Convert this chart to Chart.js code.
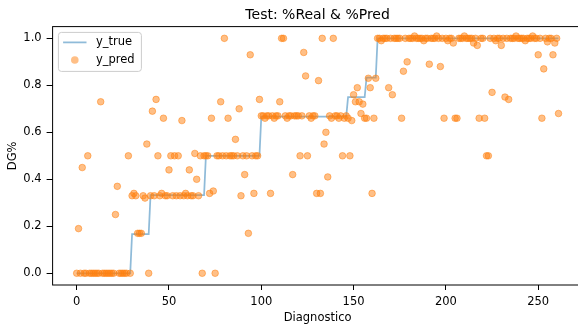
<!DOCTYPE html>
<html>
<head>
<meta charset="UTF-8">
<title>Test: %Real &amp; %Pred</title>
<script src="https://cdn.jsdelivr.net/npm/chart.js"></script>
<style>
  html, body { margin: 0; padding: 0; background: #fff; overflow: hidden; }
  canvas { display: block; }
</style>
</head>
<body>
<canvas id="predChart" width="640" height="326"></canvas>
<script>
// valori reali (ordinati) e predetti, uno per diagnostico
const yTrue = [
  0, 0, 0, 0, 0, 0, 0, 0, 0, 0,
  0, 0, 0, 0, 0, 0, 0, 0, 0, 0,
  0, 0, 0, 0, 0, 0, 0, 0, 0, 0,
  0.167, 0.167, 0.167, 0.167, 0.167, 0.167, 0.167, 0.167, 0.167, 0.167,
  0.333, 0.333, 0.333, 0.333, 0.333, 0.333, 0.333, 0.333, 0.333, 0.333,
  0.333, 0.333, 0.333, 0.333, 0.333, 0.333, 0.333, 0.333, 0.333, 0.333,
  0.333, 0.333, 0.333, 0.333, 0.333, 0.333, 0.333, 0.333, 0.333, 0.333,
  0.5, 0.5, 0.5, 0.5, 0.5, 0.5, 0.5, 0.5, 0.5, 0.5,
  0.5, 0.5, 0.5, 0.5, 0.5, 0.5, 0.5, 0.5, 0.5, 0.5,
  0.5, 0.5, 0.5, 0.5, 0.5, 0.5, 0.5, 0.5, 0.5, 0.5,
  0.667, 0.667, 0.667, 0.667, 0.667, 0.667, 0.667, 0.667, 0.667, 0.667,
  0.667, 0.667, 0.667, 0.667, 0.667, 0.667, 0.667, 0.667, 0.667, 0.667,
  0.667, 0.667, 0.667, 0.667, 0.667, 0.667, 0.667, 0.667, 0.667, 0.667,
  0.667, 0.667, 0.667, 0.667, 0.667, 0.667, 0.667, 0.667, 0.667, 0.667,
  0.667, 0.667, 0.667, 0.667, 0.667, 0.667, 0.667, 0.75, 0.75, 0.75,
  0.75, 0.75, 0.75, 0.75, 0.75, 0.75, 0.75, 0.833, 0.833, 0.833,
  0.833, 0.833, 0.833, 1, 1, 1, 1, 1, 1, 1,
  1, 1, 1, 1, 1, 1, 1, 1, 1, 1,
  1, 1, 1, 1, 1, 1, 1, 1, 1, 1,
  1, 1, 1, 1, 1, 1, 1, 1, 1, 1,
  1, 1, 1, 1, 1, 1, 1, 1, 1, 1,
  1, 1, 1, 1, 1, 1, 1, 1, 1, 1,
  1, 1, 1, 1, 1, 1, 1, 1, 1, 1,
  1, 1, 1, 1, 1, 1, 1, 1, 1, 1,
  1, 1, 1, 1, 1, 1, 1, 1, 1, 1,
  1, 1, 1, 1, 1, 1, 1, 1, 1, 1,
  1, 1
];

const yPred = [
  0, 0.19, 0, 0.45, 0, 0, 0.5, 0, 0, 0,
  0, 0, 0, 0.73, 0, 0, 0, 0, 0, 0,
  0, 0.25, 0.37, 0, 0, 0, 0, 0, 0.5, 0,
  0.33, 0.34, 0.33, 0.17, 0.17, 0.17, 0.33, 0.32, 0.55, 0,
  0.33, 0.69, 0.33, 0.74, 0.5, 0.33, 0.34, 0.66, 0.33, 0.33,
  0.44, 0.5, 0.33, 0.5, 0.33, 0.5, 0.33, 0.65, 0.33, 0.34,
  0.33, 0.44, 0.33, 0.33, 0.51, 0.4, 0.33, 0.5, 0, 0.5,
  0.5, 0.5, 0.34, 0.66, 0.35, 0, 0.5, 0.5, 0.73, 0.5,
  1.0, 0.5, 0.66, 0.5, 0.5, 0.5, 0.57, 0.5, 0.7, 0.33,
  0.5, 0.42, 0.5, 0.17, 0.93, 0.5, 0.34, 0.5, 0.5, 0.74,
  0.67, 0.67, 0.66, 0.67, 0.67, 0.34, 0.67, 0.66, 0.67, 0.67,
  0.73, 1.0, 1.0, 0.67, 0.66, 0.67, 0.67, 0.42, 0.67, 0.67,
  0.67, 0.5, 0.67, 0.94, 0.84, 0.5, 0.67, 0.66, 0.67, 0.67,
  0.34, 0.82, 0.34, 1.0, 0.55, 0.6, 0.41, 0.67, 0.66, 1.0,
  0.67, 0.67, 0.66, 0.67, 0.5, 0.66, 0.67, 0.66, 0.5, 0.65,
  0.76, 0.73, 0.79, 0.73, 0.68, 0.72, 0.66, 0.66, 0.83, 0.79,
  0.34, 0.66, 0.83, 1.0, 1.0, 0.99, 1.0, 1.0, 1.0, 0.79,
  1.0, 0.76, 1.0, 1.0, 1.0, 1.0, 0.66, 0.86, 1.0, 0.9,
  1.0, 1.0, 1.0, 1.01, 1.0, 1.0, 1.0, 1.0, 0.99, 1.0,
  1.0, 0.89, 1.0, 1.0, 1.0, 1.01, 1.0, 0.88, 1.0, 0.66,
  1.0, 0.99, 1.0, 1.0, 0.98, 0.66, 0.66, 1.0, 1.0, 1.0,
  1.01, 1.0, 1.0, 1.0, 1.0, 0.98, 1.0, 0.97, 0.66, 1.0,
  1.0, 0.66, 0.5, 0.5, 1.0, 0.77, 1.0, 0.99, 1.0, 1.0,
  0.97, 1.0, 0.75, 1.0, 0.74, 1.0, 1.0, 1.0, 1.01, 1.0,
  1.0, 1.0, 1.0, 0.99, 1.0, 1.0, 1.0, 1.01, 1.0, 1.0,
  0.93, 1.0, 0.66, 0.87, 1.0, 0.985, 1.0, 1.0, 0.93, 0.98,
  1.0, 0.68
];

const xTicks = [0, 50, 100, 150, 200, 250];
const yTicks = [0, 0.2, 0.4, 0.6, 0.8, 1.0];
const seriesLabels = ['y_true', 'y_pred'];

const blue = 'rgba(31, 119, 180, 0.5)';
const orange = 'rgba(255, 127, 14, 0.5)';
const fontFamily = 'DejaVu Sans';

Chart.defaults.font.family = fontFamily;
Chart.defaults.color = '#000';

// cornice completa + legenda in alto a sinistra (stile matplotlib)
const framePlugin = {
  id: 'frame',
  afterDatasetsDraw(chart) {
    const { ctx, chartArea: a } = chart;
    ctx.save();
    ctx.strokeStyle = '#000';
    ctx.lineWidth = 1;
    ctx.strokeRect(a.left, a.top, a.right - a.left, a.bottom - a.top);

    const x0 = a.left + 5.8, y0 = a.top + 5.8, w = 83, h = 39, r = 3;
    ctx.beginPath();
    ctx.moveTo(x0 + r, y0);
    ctx.lineTo(x0 + w - r, y0);
    ctx.arcTo(x0 + w, y0, x0 + w, y0 + r, r);
    ctx.lineTo(x0 + w, y0 + h - r);
    ctx.arcTo(x0 + w, y0 + h, x0 + w - r, y0 + h, r);
    ctx.lineTo(x0 + r, y0 + h);
    ctx.arcTo(x0, y0 + h, x0, y0 + h - r, r);
    ctx.lineTo(x0, y0 + r);
    ctx.arcTo(x0, y0, x0 + r, y0, r);
    ctx.closePath();
    ctx.fillStyle = 'rgba(255,255,255,0.8)';
    ctx.fill();
    ctx.strokeStyle = '#cccccc';
    ctx.stroke();

    const row1 = y0 + 10, row2 = y0 + 27.6;
    ctx.strokeStyle = blue;
    ctx.lineWidth = 1.75;
    ctx.beginPath();
    ctx.moveTo(x0 + 4.7, row1);
    ctx.lineTo(x0 + 28.1, row1);
    ctx.stroke();

    ctx.fillStyle = orange;
    ctx.beginPath();
    ctx.arc(x0 + 16.4, row2, 3.8, 0, Math.PI * 2);
    ctx.fill();

    ctx.fillStyle = '#000';
    ctx.font = '11.5px "' + fontFamily + '"';
    ctx.textBaseline = 'middle';
    ctx.textAlign = 'left';
    ctx.fillText(seriesLabels[0], x0 + 37.5, row1);
    ctx.fillText(seriesLabels[1], x0 + 37.5, row2);
    ctx.restore();
  }
};

new Chart(document.getElementById('predChart'), {
  type: 'scatter',
  data: {
    datasets: [{
      label: seriesLabels[1],
      data: yPred.map((v, i) => ({ x: i, y: v })),
      backgroundColor: orange,
      borderColor: orange,
      borderWidth: 1,
      pointRadius: 3.3,
      pointHoverRadius: 3.3,
      order: 0
    }, {
      label: seriesLabels[0],
      data: yTrue.map((v, i) => ({ x: i, y: v })),
      showLine: true,
      borderColor: blue,
      borderWidth: 1.75,
      pointRadius: 0,
      fill: false,
      tension: 0,
      order: 1
    }]
  },
  options: {
    responsive: false,
    animation: false,
    devicePixelRatio: 1,
    layout: { padding: { left: 0, right: 57.4, top: 0, bottom: 0 } },
    plugins: {
      legend: { display: false },
      tooltip: { enabled: false },
      title: {
        display: true,
        text: 'Test: %Real & %Pred',
        fullSize: false,
        color: '#000',
        font: { size: 14, weight: 'normal' },
        padding: { top: 7, bottom: 2.8 }
      }
    },
    scales: {
      x: {
        type: 'linear',
        min: -13.05,
        max: 274.05,
        afterBuildTicks: (scale) => { scale.ticks = xTicks.map(v => ({ value: v })); },
        afterFit: (scale) => { scale.height = 41; },
        grid: { drawOnChartArea: false, drawTicks: true, tickLength: 5, tickColor: '#000' },
        border: { display: false },
        ticks: {
          autoSkip: false,
          maxRotation: 0,
          padding: 5,
          color: '#000',
          font: { size: 11.5 },
          callback: (v) => String(v)
        },
        title: {
          display: true,
          text: 'Diagnostico',
          color: '#000',
          font: { size: 11.5 },
          padding: { top: 0, bottom: 1.5 }
        }
      },
      y: {
        type: 'linear',
        min: -0.05,
        max: 1.05,
        afterBuildTicks: (scale) => { scale.ticks = yTicks.map(v => ({ value: v })); },
        afterFit: (scale) => { scale.width = 52.6; },
        grid: { drawOnChartArea: false, drawTicks: true, tickLength: 6, tickColor: '#000' },
        border: { display: false },
        ticks: {
          padding: 5,
          color: '#000',
          font: { size: 11.5 },
          callback: (v) => v.toFixed(1)
        },
        title: {
          display: true,
          text: 'DG%',
          color: '#000',
          font: { size: 11.5 },
          padding: { top: 6.5, bottom: 0 }
        }
      }
    }
  },
  plugins: [framePlugin]
});
</script>
</body>
</html>
